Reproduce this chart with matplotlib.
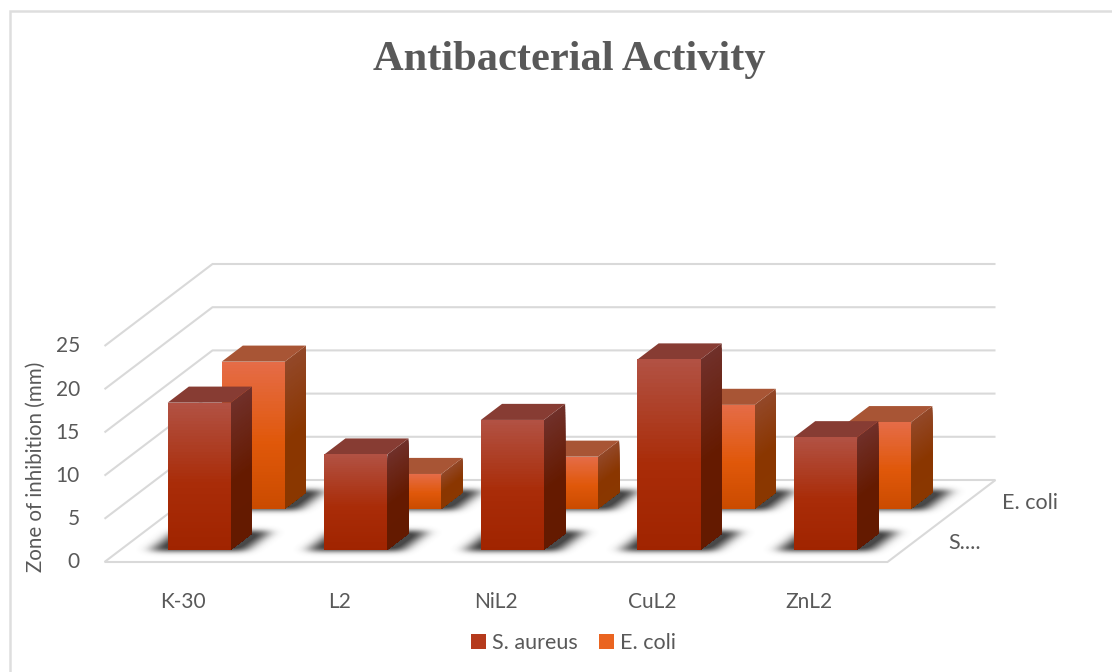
import numpy as np
import matplotlib
matplotlib.use("Agg")
import matplotlib.pyplot as plt
from matplotlib.patches import Polygon, Patch
from matplotlib.path import Path
from matplotlib.colors import to_rgb

categories = ["K-30", "L2", "NiL2", "CuL2", "ZnL2"]
s_aureus = [17, 11, 15, 22, 13]
e_coli = [17, 4, 6, 12, 10]
series_names = ["S. aureus", "E. coli"]
depth_labels = ["S....", "E. coli"]
y_ticks = [0, 5, 10, 15, 20, 25]
title = "Antibacterial Activity"
y_label = "Zone of inhibition (mm)"

W, H = 1112, 672
X0, Y0 = 105.0, 562.0      # front-left floor corner (pixels)
FLOOR_W = 783.0
DX, DY = 108.0, 82.0       # floor depth vector
UNIT = 8.64                # pixels per data unit
BAR_FRAC = 0.403
DEPTH_FRAC = 0.196
GRID = "#d9d9d9"
TEXT = "#595959"

RED = dict(front=["#b25244", "#a92c08", "#a02400"], side=["#70302a", "#651a00", "#641a00"], top="#873c33")
ORG = dict(front=["#e56c48", "#e0580a", "#cb4b00"], side=["#934829", "#8a3600", "#8a3700"], top="#a85535")

fig = plt.figure(figsize=(W / 100, H / 100), dpi=100)
ax = fig.add_axes([0, 0, 1, 1])
ax.set_xlim(0, W)
ax.set_ylim(H, 0)
ax.axis("off")


def proj(x, t, v):
    """x: category units, t: depth 0..1, v: data value -> pixel coordinates"""
    return (X0 + x * FLOOR_W / len(categories) + DX * t - 0.5, Y0 - DY * t - v * UNIT)


def grad(stops, f):
    c = np.array([to_rgb(s) for s in stops])
    if f < 0.55:
        return tuple(c[0] + (c[1] - c[0]) * f / 0.55)
    return tuple(c[1] + (c[2] - c[1]) * (f - 0.55) / 0.45)


def strips(fn, v, stops, z, n=48):
    # painter's algorithm: each strip reaches down to the base, so no seams appear
    for i in range(n):
        a = v * (1 - i / n)
        col = grad(stops, (i + 0.5) / n)
        ax.add_patch(Polygon(fn(a, 0), closed=True, fc=col, ec="none", lw=0, zorder=z))


def shadow(xl, xr, t0, t1, z):
    ex = 0.10
    pts = np.array([proj(xl - ex, t0 - 0.015, 0), proj(xr + ex, t0 - 0.015, 0),
                    proj(xr + ex, t1 + 0.035, 0), proj(xl - ex, t1 + 0.035, 0)])
    pad = 26
    x_min, y_min = pts.min(0) - pad
    x_max, y_max = pts.max(0) + pad
    xs, ys = np.meshgrid(np.arange(x_min, x_max), np.arange(y_min, y_max))
    m = Path(pts).contains_points(np.c_[xs.ravel(), ys.ravel()]).reshape(xs.shape).astype(float)
    kx = np.exp(-0.5 * (np.arange(-20, 21) / 7.0) ** 2)
    kx /= kx.sum()
    ky = np.exp(-0.5 * (np.arange(-10, 11) / 2.6) ** 2)
    ky /= ky.sum()
    m = np.apply_along_axis(lambda r: np.convolve(r, kx, mode="same"), 1, m)
    m = np.apply_along_axis(lambda r: np.convolve(r, ky, mode="same"), 0, m)
    rgba = np.zeros(m.shape + (4,))
    rgba[..., :3] = 0.2
    rgba[..., 3] = np.clip(m * 1.05, 0, 0.9)
    ax.imshow(rgba, extent=(x_min, x_max, y_max, y_min), aspect="auto", zorder=z, interpolation="bilinear")


# chart frame: left and top edges only are visible in the crop
ax.plot([10, 10, W], [H, 11, 11], color="#dedede", lw=1.8, zorder=0, solid_joinstyle="miter")

# gridlines
for v in y_ticks:
    a, b, c = proj(0, 0, v), proj(0, 1, v), proj(len(categories), 1, v)
    ax.plot([a[0], b[0], c[0]], [a[1], b[1], c[1]], color=GRID, lw=1.5, zorder=1, solid_capstyle="butt")
a, b, c = proj(0, 0, 0), proj(len(categories), 0, 0), proj(len(categories), 1, 0)
ax.plot([a[0], b[0], c[0]], [a[1], b[1], c[1]], color=GRID, lw=1.5, zorder=1, solid_capstyle="butt")

# bars, back series first
z = 2
for s, (vals, pal) in reversed(list(enumerate([(s_aureus, RED), (e_coli, ORG)]))):
    t0 = (s + 0.5) / 2 - DEPTH_FRAC / 2
    t1 = t0 + DEPTH_FRAC
    for i in range(len(categories)):
        xl, xr = i + 0.5 - BAR_FRAC / 2, i + 0.5 + BAR_FRAC / 2
        shadow(xl, xr, t0, t1, z)
    z += 1
    for i, v in enumerate(vals):
        xl, xr = i + 0.5 - BAR_FRAC / 2, i + 0.5 + BAR_FRAC / 2
        strips(lambda a, b: [proj(xr, t0, a), proj(xr, t1, a), proj(xr, t1, b), proj(xr, t0, b)],
               v, pal["side"], z)
        ax.add_patch(Polygon([proj(xl, t0, v), proj(xr, t0, v), proj(xr, t1, v), proj(xl, t1, v)],
                             closed=True, fc=pal["top"], ec="none", lw=0, zorder=z))
        strips(lambda a, b: [proj(xl, t0, a), proj(xr, t0, a), proj(xr, t0, b), proj(xl, t0, b)],
               v, pal["front"], z)
        z += 1

# text
F = "Lato"
ax.text(569, 60, title, family="Liberation Serif", weight="bold", fontsize=30.6, color=TEXT,
        ha="center", va="center", zorder=z)
ax.text(36, 467, y_label, family=F, fontsize=14.8, color=TEXT, rotation=90, ha="center", va="center", zorder=z)
for v in y_ticks:
    ax.text(80, proj(0, 0, v)[1] + 0.5, str(v), family=F, fontsize=15, color=TEXT, ha="right", va="center", zorder=z)
for i, c in enumerate(categories):
    ax.text(proj(i + 0.5, 0, 0)[0], 602, c, family=F, fontsize=15, color=TEXT, ha="center", va="center", zorder=z)
ax.text(948, 543, depth_labels[0], family=F, fontsize=15.5, color=TEXT, ha="left", va="center", zorder=z)
ax.text(1002, 503, depth_labels[1], family=F, fontsize=15.5, color=TEXT, ha="left", va="center", zorder=z)

handles = [Patch(fc="#b53a1c", ec="none", label=series_names[0]),
           Patch(fc="#ea6420", ec="none", label=series_names[1])]
leg = ax.legend(handles=handles, ncol=2, loc="center", bbox_to_anchor=(573.5 / W, 1 - 643 / H),
                frameon=False, handlelength=0.7, handleheight=0.7, handletextpad=0.25, columnspacing=1.0,
                prop={"family": F, "size": 15.5}, labelcolor=TEXT, borderpad=0)
leg.set_zorder(z)

fig.savefig("out.png", dpi=100)
